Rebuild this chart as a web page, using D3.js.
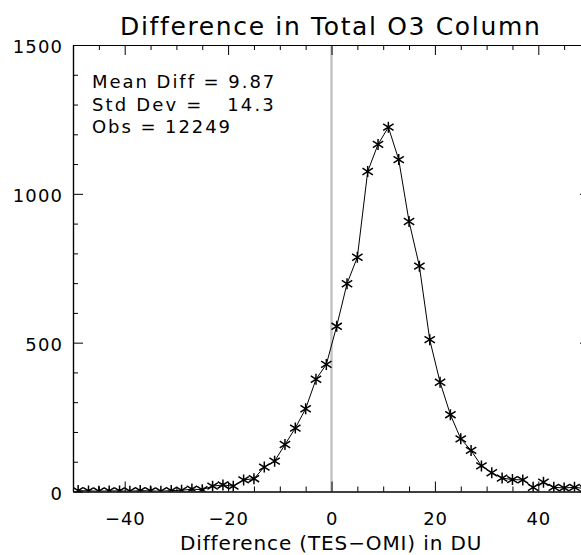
<!DOCTYPE html>
<html>
<head>
<meta charset="utf-8">
<script src="https://cdn.jsdelivr.net/npm/d3@7"></script>
<style>
  html, body { margin: 0; padding: 0; background: #fff; }
  svg { display: block; }
  text { font-family: "DejaVu Sans", sans-serif; fill: #000; }
</style>
</head>
<body>
<div id="chart"></div>
<script>
// ---- data ----
const binCenters = [-49,-47,-45,-43,-41,-39,-37,-35,-33,-31,-29,-27,-25,-23,-21,-19,-17,-15,-13,-11,-9,-7,-5,-3,-1,
                    1,3,5,7,9,11,13,15,17,19,21,23,25,27,29,31,33,35,37,39,41,43,45,47,49];
const counts = [3,2,1,2,2,1,3,2,1,3,4,8,6,18,22,18,39,43,82,102,158,213,278,377,427,
                555,698,787,1075,1166,1224,1115,907,757,510,367,258,177,138,86,63,45,40,39,14,31,14,12,14,10];
const xTickLabels = [-40,-20,0,20,40];
const yTickLabels = [0,500,1000,1500];
const statsLines = ["Mean Diff = 9.87", "Std Dev =   14.3", "Obs = 12249"];
const titleText = "Difference in Total O3 Column";
const xLabelText = "Difference (TES\u2212OMI) in DU";

// ---- layout ----
const W = 581, H = 555;
const L = 73, R = 590, T = 45, B = 491.5;

const svg = d3.select("#chart").append("svg").attr("width", W).attr("height", H);

const x = d3.scaleLinear().domain([-50, 50]).range([L, R]);
const y = d3.scaleLinear().domain([0, 1500]).range([B, T]);

const xMinor = d3.range(-50, 51, 5).filter(v => !xTickLabels.includes(v));
const yMinor = d3.range(0, 1501, 100).filter(v => !yTickLabels.includes(v));

// spread a text element so that its ink spans the wanted width
function spread(sel, width) {
  sel.each(function () {
    const nat = this.getComputedTextLength();
    const n = this.textContent.length;
    d3.select(this).attr("letter-spacing", ((width - nat) / n).toFixed(2));
  });
}

// zero line
svg.append("line")
  .attr("x1", x(0)).attr("x2", x(0)).attr("y1", T).attr("y2", B)
  .attr("stroke", "#c4c4c4").attr("stroke-width", 2.5);

svg.append("clipPath").attr("id", "clip").append("rect")
  .attr("x", L).attr("y", T).attr("width", R - L).attr("height", B - T);

const fmt = d3.format("d");

const gB = svg.append("g").attr("transform", `translate(0,${B})`);
gB.call(d3.axisBottom(x).tickValues(xTickLabels).tickSizeInner(-10).tickSizeOuter(0).tickPadding(21).tickFormat(fmt));
gB.append("g").call(d3.axisBottom(x).tickValues(xMinor).tickSizeInner(-5).tickSizeOuter(0).tickFormat(""));
const gT = svg.append("g").attr("transform", `translate(0,${T})`);
gT.call(d3.axisTop(x).tickValues(xTickLabels).tickSizeInner(-10).tickSizeOuter(0).tickFormat(""));
gT.append("g").call(d3.axisTop(x).tickValues(xMinor).tickSizeInner(-5).tickSizeOuter(0).tickFormat(""));
const gL = svg.append("g").attr("transform", `translate(${L},0)`);
gL.call(d3.axisLeft(y).tickValues(yTickLabels).tickSizeInner(-10).tickSizeOuter(0).tickPadding(10).tickFormat(fmt));
gL.append("g").call(d3.axisLeft(y).tickValues(yMinor).tickSizeInner(-5).tickSizeOuter(0).tickFormat(""));
const gR = svg.append("g").attr("transform", `translate(${R},0)`);
gR.call(d3.axisRight(y).tickValues(yTickLabels).tickSizeInner(-10).tickSizeOuter(0).tickFormat(""));
gR.append("g").call(d3.axisRight(y).tickValues(yMinor).tickSizeInner(-5).tickSizeOuter(0).tickFormat(""));

svg.selectAll(".domain").attr("stroke", "#000").attr("stroke-width", 1.2);
svg.selectAll(".tick line").attr("stroke", "#000").attr("stroke-width", 1);
svg.selectAll(".tick text").attr("font-family", "DejaVu Sans, sans-serif").attr("font-size", 18).attr("fill", "#000");
gL.selectAll(".tick text").attr("letter-spacing", 1.1).attr("dy", "0.42em");
gB.selectAll(".tick text").attr("letter-spacing", 0.8);

// data line + stars
const data = binCenters.map((c, i) => ({ x: c, y: counts[i] }));
const plot = svg.append("g").attr("clip-path", "url(#clip)");
plot.append("path")
  .datum(data)
  .attr("fill", "none").attr("stroke", "#000").attr("stroke-width", 1)
  .attr("d", d3.line().x(d => x(d.x)).y(d => y(d.y)));

const star = "M0,-5.5L0,5.5M-5.2,-3.3L5.2,3.3M-5.2,3.3L5.2,-3.3";
plot.selectAll("path.star").data(data).join("path")
  .attr("class", "star")
  .attr("transform", d => `translate(${x(d.x)},${y(d.y)})`)
  .attr("d", star)
  .attr("fill", "none").attr("stroke", "#000").attr("stroke-width", 1.5);

// title
svg.append("text").attr("x", 120).attr("y", 35)
  .attr("font-size", 25).text(titleText).call(spread, 421);

// stats
const statWidths = [184, 184, 140];
svg.selectAll("text.stat").data(statsLines).join("text")
  .attr("class", "stat")
  .attr("x", 92).attr("y", (d, i) => 88 + i * 22.5)
  .attr("font-size", 18)
  .style("white-space", "pre")
  .text(d => d)
  .each(function (d, i) { d3.select(this).call(spread, statWidths[i]); });

// x label
svg.append("text").attr("x", 180).attr("y", 550)
  .attr("font-size", 20).text(xLabelText).call(spread, 302);
</script>
</body>
</html>
